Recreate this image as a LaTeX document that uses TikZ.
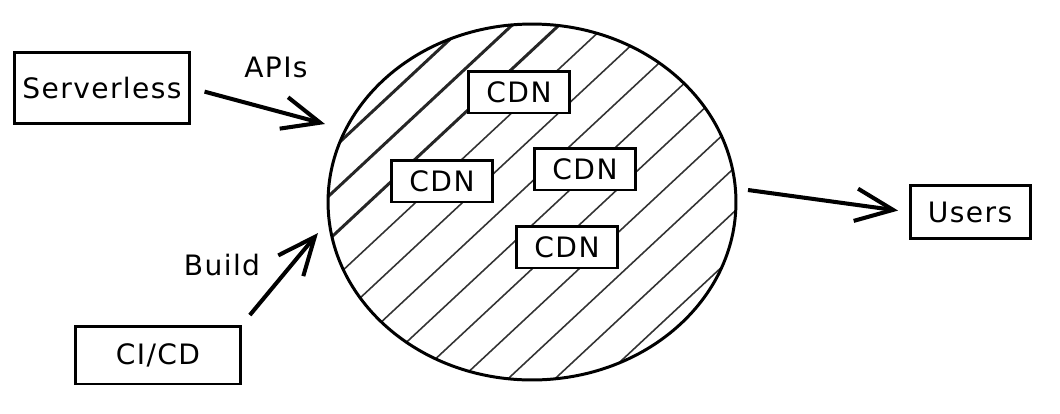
\documentclass[tikz,border=0pt]{standalone}
\usepackage{fontspec}
\newfontfamily\kez{DejaVu Sans}[LetterSpace=5]
\usetikzlibrary{arrows.meta,positioning,shapes.geometric}
\tikzset{
  box/.style={draw,line width=1.7pt,fill=white,inner sep=0pt},
  cdn/.style={box,minimum width=2.02cm,minimum height=0.84cm},
  arr/.style={line width=2.3pt,-{Straight Barb[length=7.5mm,width=6.5mm,line width=2.3pt]}},
  hatch/.style={line width=0.9pt,black!80},
  thatch/.style={line width=1.7pt,black!85},
}

\begin{document}
\begin{tikzpicture}[x=0.02cm,y=-0.02cm,font=\kez\fontsize{16}{19}\selectfont]
  \useasboundingbox (0,0) rectangle (1060,413);
  % hatching inside the circle
  \begin{scope}
    \clip (532,202) ellipse [x radius=204, y radius=178];
    \foreach \d in {-175,-143,-111} \draw[thatch] ({532+\d*0.682-250},{202+\d*0.731+233}) -- ({532+\d*0.682+250},{202+\d*0.731-233});
    \foreach \d in {-79,-47,...,210} \draw[hatch] ({532+\d*0.682-250},{202+\d*0.731+233}) -- ({532+\d*0.682+250},{202+\d*0.731-233});
  \end{scope}
  \node[ellipse,draw,line width=1.7pt,minimum width=8.16cm,minimum height=7.12cm,inner sep=0pt] (cloud) at (532,202) {};
  \node[cdn] (cdn1) at (519,92) {CDN};
  \node[cdn] (cdn2) at (442,181) {CDN};
  \node[cdn] (cdn3) at (585,169) {CDN};
  \node[cdn] (cdn4) at (567,247) {CDN};
  % outside boxes
  \node[box,minimum width=3.5cm,minimum height=1.42cm] (serverless) at (102,88) {Serverless};
  \node[box,minimum width=3.3cm,minimum height=1.16cm] (cicd) at (158,355) {CI/CD};
  \node[box,minimum width=2.4cm,minimum height=1.06cm] (users) at (970,212) {Users};
  \node (apis) at (276,67) {APIs};
  \node (build) at (222,265) {Build};
  % arrows
  \coordinate (apitip) at (325,124);
  \coordinate (buildtip) at (318,233);
  \coordinate (usertail) at (748,190);
  \draw[arr,shorten <=8pt] (serverless.east) -- (apitip);
  \draw[arr,shorten <=7pt] (cicd.north east) -- (buildtip);
  \draw[arr,shorten >=6pt] (usertail) -- (users.west);
\end{tikzpicture}
\end{document}
